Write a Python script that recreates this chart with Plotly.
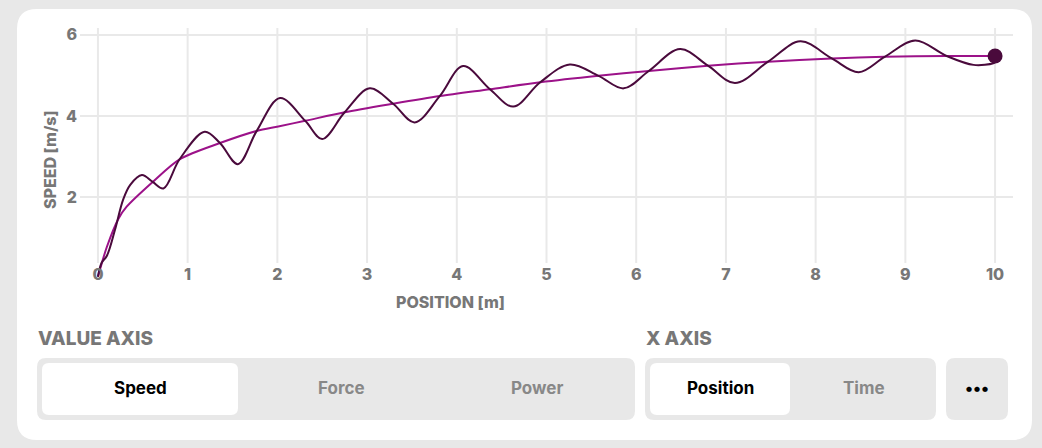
import plotly.graph_objects as go

# ---------------- data ----------------
pos_osc = [0, 0.04, 0.10, 0.19, 0.28, 0.36, 0.49, 0.61, 0.73, 0.91, 1.19, 1.36, 1.56, 1.77,
           2.03, 2.31, 2.50, 2.75, 3.03, 3.29, 3.53, 3.81, 4.07, 4.37, 4.63, 4.93, 5.26,
           5.58, 5.86, 6.14, 6.49, 6.80, 7.10, 7.47, 7.83, 8.18, 8.48, 8.77, 9.11, 9.46,
           9.76, 9.98, 10.0]
speed_osc = [0.03, 0.37, 0.55, 1.19, 1.93, 2.30, 2.54, 2.37, 2.21, 2.93, 3.61, 3.33, 2.81, 3.63,
             4.44, 3.88, 3.43, 4.09, 4.68, 4.30, 3.84, 4.49, 5.23, 4.66, 4.23, 4.83, 5.27,
             4.99, 4.68, 5.11, 5.65, 5.24, 4.81, 5.34, 5.84, 5.42, 5.08, 5.46, 5.86, 5.48,
             5.26, 5.30, 5.33]

pos_smooth = [0, 0.10, 0.23, 0.32, 0.61, 0.91, 1.36, 1.77, 2.01, 2.31, 2.75, 3.29, 3.81,
              4.37, 4.93, 5.58, 6.14, 6.80, 7.47, 8.18, 8.77, 9.46, 10.0]
speed_smooth = [0.03, 0.77, 1.47, 1.76, 2.37, 2.93, 3.33, 3.63, 3.74, 3.88, 4.09, 4.30, 4.49,
                4.66, 4.83, 4.99, 5.11, 5.24, 5.34, 5.42, 5.46, 5.48, 5.48]

x_ticks = [0, 1, 2, 3, 4, 5, 6, 7, 8, 9, 10]
y_ticks = [2, 4, 6]

value_axis_options = ["Speed", "Force", "Power"]
x_axis_options = ["Position", "Time"]

# ---------------- geometry helpers ----------------
W, H = 1042, 448
L, R, T, B = 80, 1013, 28, 280


def px(x):
    return (x - L) / (R - L)


def py(y):
    return (B - y) / (B - T)


def rrect(x0, y0, x1, y1, r):
    return (f"M {px(x0 + r)},{py(y0)} L {px(x1 - r)},{py(y0)} "
            f"Q {px(x1)},{py(y0)} {px(x1)},{py(y0 + r)} "
            f"L {px(x1)},{py(y1 - r)} Q {px(x1)},{py(y1)} {px(x1 - r)},{py(y1)} "
            f"L {px(x0 + r)},{py(y1)} Q {px(x0)},{py(y1)} {px(x0)},{py(y1 - r)} "
            f"L {px(x0)},{py(y0 + r)} Q {px(x0)},{py(y0)} {px(x0 + r)},{py(y0)} Z")


DARK = "#4a0a3c"
MAGENTA = "#9c1289"
GRID = "#e9e9e9"
GRAY = "#777777"
FONT = "Inter"

fig = go.Figure()

fig.add_trace(go.Scatter(x=pos_smooth, y=speed_smooth, mode="lines",
                         line=dict(color=MAGENTA, width=2, shape="spline", smoothing=0.8),
                         hoverinfo="skip", showlegend=False))
fig.add_trace(go.Scatter(x=pos_osc, y=speed_osc, mode="lines",
                         line=dict(color=DARK, width=2, shape="spline", smoothing=1.0),
                         hoverinfo="skip", showlegend=False))
fig.add_trace(go.Scatter(x=[pos_smooth[-1]], y=[speed_smooth[-1]], mode="markers",
                         marker=dict(color=DARK, size=15), cliponaxis=False,
                         hoverinfo="skip", showlegend=False))

shapes = []
# white card
shapes.append(dict(type="path", xref="paper", yref="paper", path=rrect(17, 9, 1032, 440, 20),
                   fillcolor="white", line=dict(width=0), layer="below"))
# vertical grid lines
for t in x_ticks:
    shapes.append(dict(type="line", xref="x", yref="paper", x0=t, x1=t, y0=py(263), y1=py(28),
                       line=dict(color=GRID, width=2), layer="below"))
# control containers
shapes.append(dict(type="path", xref="paper", yref="paper", path=rrect(37, 358, 635, 420, 9),
                   fillcolor="#e8e8e8", line=dict(width=0), layer="below"))
shapes.append(dict(type="path", xref="paper", yref="paper", path=rrect(42, 363, 238, 415, 7),
                   fillcolor="white", line=dict(width=0), layer="below"))
shapes.append(dict(type="path", xref="paper", yref="paper", path=rrect(645, 358, 936, 420, 9),
                   fillcolor="#e8e8e8", line=dict(width=0), layer="below"))
shapes.append(dict(type="path", xref="paper", yref="paper", path=rrect(650, 363, 790, 415, 7),
                   fillcolor="white", line=dict(width=0), layer="below"))
shapes.append(dict(type="path", xref="paper", yref="paper", path=rrect(946, 358, 1008, 420, 9),
                   fillcolor="#e8e8e8", line=dict(width=0), layer="below"))

annotations = []


def label(text, x, y, size, color, xanchor="center", weight=700, angle=0):
    annotations.append(dict(text=text, x=px(x), y=py(y), xref="paper", yref="paper",
                            showarrow=False, xanchor=xanchor, yanchor="middle", textangle=angle,
                            font=dict(family=FONT, size=size, color=color, weight=weight)))


label("POSITION [m]", 450, 302, 16, GRAY, weight=800)
label("SPEED [m/s]", 50, 160, 16, GRAY, weight=800, angle=-90)
label("VALUE AXIS", 36, 338, 19, GRAY, xanchor="left", weight=800)
label("X AXIS", 644, 338, 19, GRAY, xanchor="left", weight=800)

opt_x = [140, 341, 537]
for i, name in enumerate(value_axis_options):
    label(name, opt_x[i], 388, 17, "#000000" if i == 0 else "#888888", weight=700)
opt_x2 = [720, 864]
for i, name in enumerate(x_axis_options):
    label(name, opt_x2[i], 388, 17, "#000000" if i == 0 else "#888888", weight=700)
label("•••", 977, 388, 17, "#000000")

fig.update_layout(
    width=W, height=H, autosize=False,
    margin=dict(l=L, r=W - R, t=T, b=H - B, pad=0),
    paper_bgcolor="#e8e8e8", plot_bgcolor="rgba(0,0,0,0)",
    shapes=shapes, annotations=annotations,
    font=dict(family=FONT),
    xaxis=dict(range=[-0.2, 10.2], tickvals=x_ticks, showgrid=False, zeroline=False,
               showline=False, ticks="", ticklabelstandoff=-17,
               tickfont=dict(family=FONT, size=16, color=GRAY, weight=800), fixedrange=True),
    yaxis=dict(range=[-0.05, 6.17], tickvals=y_ticks, showgrid=True, gridcolor=GRID, gridwidth=2,
               zeroline=False, showline=False, ticks="", ticklabelstandoff=2,
               tickfont=dict(family=FONT, size=16, color=GRAY, weight=800), fixedrange=True),
)

fig.write_html("out.html", config={"displayModeBar": False},
               post_script="document.body.style.margin='0';document.body.style.padding='0';")
